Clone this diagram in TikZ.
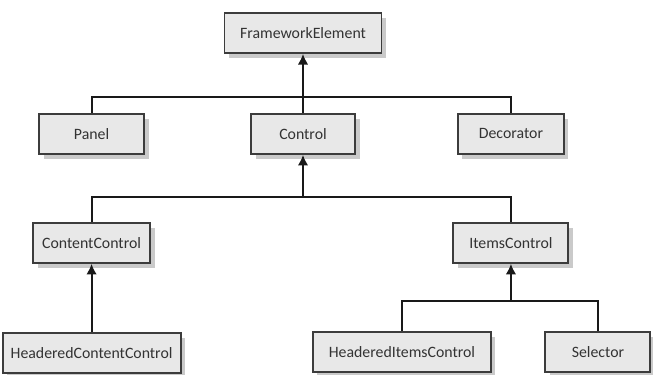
\documentclass[tikz,border=0pt]{standalone}
\usepackage{fontspec}
\setmainfont{Carlito}
\usetikzlibrary{positioning,shadows,arrows.meta}

\definecolor{boxgray}{RGB}{232,232,232}
\definecolor{edgegray}{RGB}{60,60,60}

\begin{document}
\begin{tikzpicture}[
  classbox/.style={draw=edgegray, fill=boxgray, line width=1.1pt,
    minimum height=0.8cm, inner sep=2pt, text=black!80,
    font=\fontsize{9}{11}\selectfont,
    drop shadow={shadow xshift=0.09cm, shadow yshift=-0.1cm, fill=black!35, opacity=0.6}},
  link/.style={line width=1.1pt, black!90},
  isa/.style={link, -{Latex[length=6pt,width=6pt]}},
]
\useasboundingbox (0,0) rectangle (13.06,-7.48);

\node[classbox, minimum width=3.14cm] (fw) at (6.06,-0.66) {FrameworkElement};
\node[classbox, minimum width=2.08cm, below=1.18cm of fw] (control) {Control};
\node[classbox, minimum width=2.10cm, left=2.1cm of control] (panel) {Panel};
\node[classbox, minimum width=2.12cm, right=2.02cm of control] (decorator) {Decorator};
\node[classbox, minimum width=2.34cm, below=1.34cm of panel] (contentctl) {ContentControl};
\node[classbox, minimum width=2.30cm, below=1.34cm of decorator] (itemsctl) {ItemsControl};
\node[classbox, minimum width=3.56cm, below=1.36cm of contentctl] (hdrcontent) {HeaderedContentControl};
\node[classbox, minimum width=3.56cm, below=1.34cm of itemsctl, xshift=-2.18cm] (hdritems) {HeaderedItemsControl};
\node[classbox, minimum width=2.10cm, below=1.34cm of itemsctl, xshift=1.74cm] (selector) {Selector};

\coordinate (bar1) at ([yshift=-0.86cm]fw.south);
\coordinate (bar2) at ([yshift=-0.84cm]control.south);
\coordinate (bar3) at ([yshift=-0.74cm]itemsctl.south);

\draw[link] (panel.north) |- (bar1) -| (decorator.north);
\draw[isa] (control.north) -- (fw.south);
\draw[link] (contentctl.north) |- (bar2) -| (itemsctl.north);
\draw[isa] (bar2) -- (control.south);
\draw[isa] (hdrcontent.north) -- (contentctl.south);
\draw[link] (hdritems.north) |- (bar3) -| (selector.north);
\draw[isa] (bar3) -- (itemsctl.south);
\end{tikzpicture}
\end{document}
